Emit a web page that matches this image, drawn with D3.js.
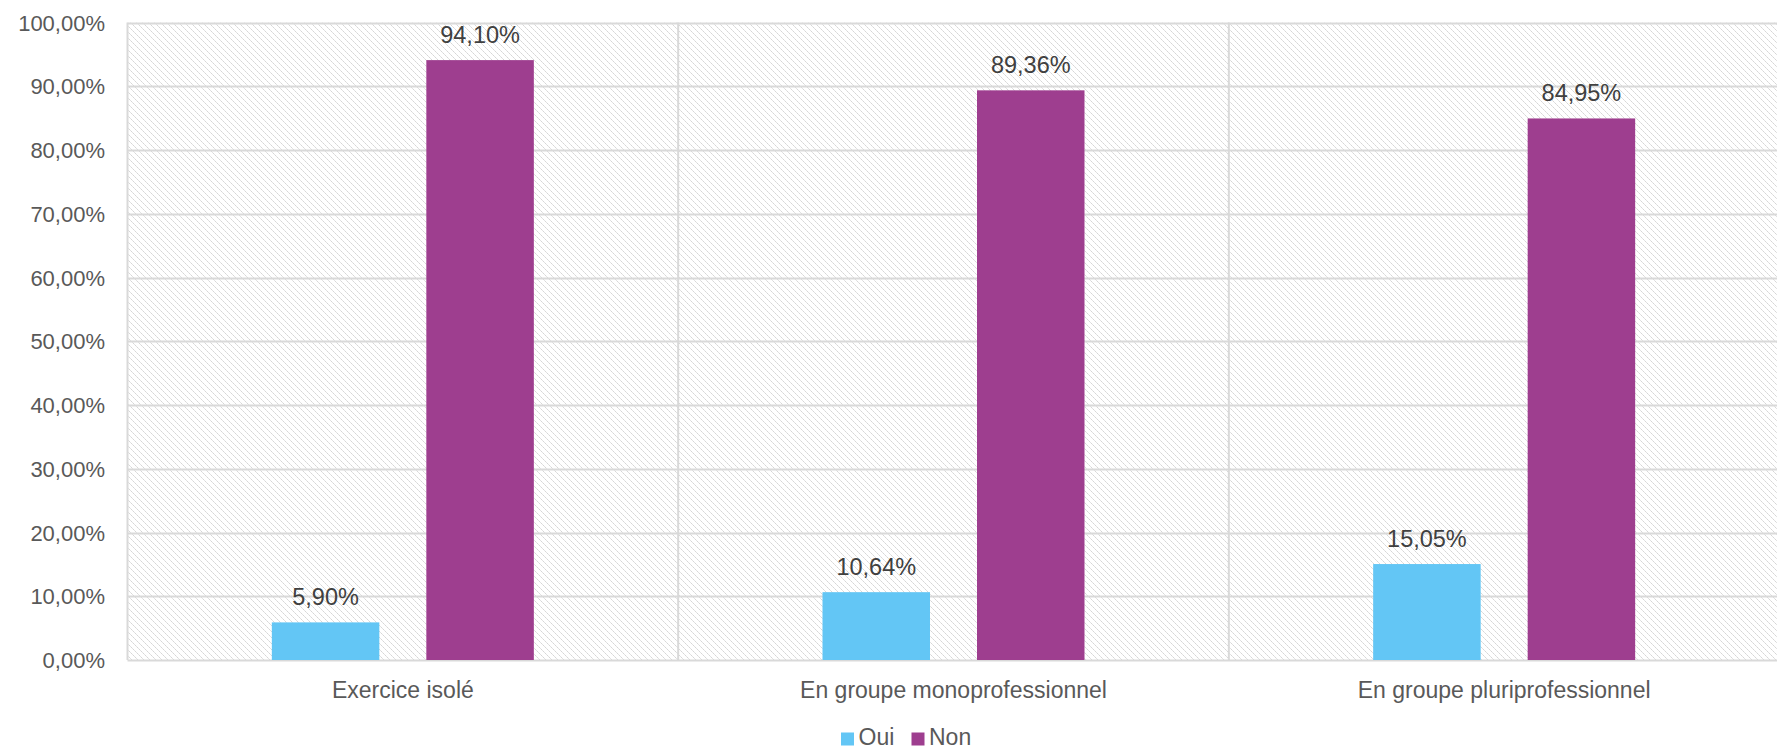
<!DOCTYPE html>
<html><head><meta charset="utf-8">
<script src="https://cdn.jsdelivr.net/npm/d3@7"></script>
<style>html,body{margin:0;padding:0;background:#fff;overflow:hidden}</style>
</head><body>
<svg id="c" width="1777" height="750"></svg>
<script>
const categories = ["Exercice isolé", "En groupe monoprofessionnel", "En groupe pluriprofessionnel"];
const seriesNames = ["Oui", "Non"];
const oui = [5.90, 10.64, 15.05];
const non = [94.10, 89.36, 84.95];
const yTicks = [0,10,20,30,40,50,60,70,80,90,100];
const colors = ["#63C6F5", "#9E3E8F"];

(function(){
const svg = d3.select("#c");
const pLeft = 127.5, pRight = 1779.5, pTop = 22.5, pBottom = 660;
const font = "'Liberation Sans', Arial, sans-serif";

const defs = svg.append("defs");
const pat = defs.append("pattern").attr("id","hatch").attr("patternUnits","userSpaceOnUse")
  .attr("width",6).attr("height",6);
pat.append("rect").attr("width",6).attr("height",6).attr("fill","#fff");
for (let i=0;i<6;i++) pat.append("rect").attr("x",i).attr("y",i).attr("width",1).attr("height",1).attr("fill", i%2? "#d6d6d6":"#e2e2e2");

const x0 = d3.scaleBand().domain(categories).range([pLeft, pRight]).paddingInner(0).paddingOuter(0);
const y = d3.scaleLinear().domain([0,100]).range([pBottom, pTop]);

svg.append("rect").attr("x",pLeft).attr("y",pTop).attr("width",pRight-pLeft).attr("height",pBottom-pTop).attr("fill","url(#hatch)");

svg.append("g").selectAll("line").data(yTicks).join("line")
  .attr("x1",pLeft).attr("x2",pRight).attr("y1",d=>Math.round(y(d))+0.5).attr("y2",d=>Math.round(y(d))+0.5)
  .attr("stroke","#d9d9d9").attr("stroke-width",2);
const seps = [0,1,2,3].map(i=> pLeft + i*x0.bandwidth());
svg.append("g").selectAll("line").data(seps).join("line")
  .attr("x1",d=>d).attr("x2",d=>d).attr("y1",pTop).attr("y2",pBottom)
  .attr("stroke","#d9d9d9").attr("stroke-width",2);

const bw = x0.bandwidth();
const barW = 107.5, gapS = 47;
const outer = (bw - 2*barW - gapS)/2;
const x1 = d3.scaleOrdinal().domain(seriesNames).range([outer, outer+barW+gapS]);
const data = [];
categories.forEach((c,i)=>{ data.push({c, s:"Oui", v:oui[i]}); data.push({c, s:"Non", v:non[i]}); });
const color = d3.scaleOrdinal().domain(seriesNames).range(colors);

svg.append("g").selectAll("rect").data(data).join("rect")
  .attr("x",d=>x0(d.c)+x1(d.s)).attr("width",barW)
  .attr("y",d=>y(d.v)).attr("height",d=>pBottom-y(d.v))
  .attr("fill",d=>color(d.s));

const fmt = v => v.toFixed(2).replace(".",",") + "%";
svg.append("g").selectAll("text").data(data).join("text")
  .attr("x",d=>x0(d.c)+x1(d.s)+barW/2).attr("y",d=>y(d.v)-17)
  .attr("text-anchor","middle").attr("font-family",font).attr("font-size",23.5).attr("fill","#404040")
  .text(d=>fmt(d.v));

const yAxis = d3.axisLeft(y).tickValues(yTicks).tickSize(0).tickPadding(0).tickFormat(d=>d.toFixed(2).replace(".",",")+"%");
const ga = svg.append("g").attr("transform",`translate(105,0)`).call(yAxis);
ga.select(".domain").remove();
ga.selectAll("text").attr("font-family",font).attr("font-size",22).attr("fill","#595959").attr("dy","0.35em");

const xAxis = d3.axisBottom(x0).tickSize(0).tickPadding(0);
const gx = svg.append("g").attr("transform",`translate(0,${pBottom})`).call(xAxis);
gx.select(".domain").remove();
gx.selectAll("text").attr("font-family",font).attr("font-size",23).attr("fill","#595959").attr("dy",0).attr("y",37.5);

const leg = svg.append("g");
const legX = [841, 911.5];
seriesNames.forEach((s,i)=>{
  leg.append("rect").attr("x",legX[i]).attr("y",732.5).attr("width",13).attr("height",13).attr("fill",colors[i]);
  leg.append("text").attr("x",legX[i]+17.5).attr("y",745).attr("font-family",font).attr("font-size",23).attr("fill","#595959").text(s);
});
})();
</script>
</body></html>
